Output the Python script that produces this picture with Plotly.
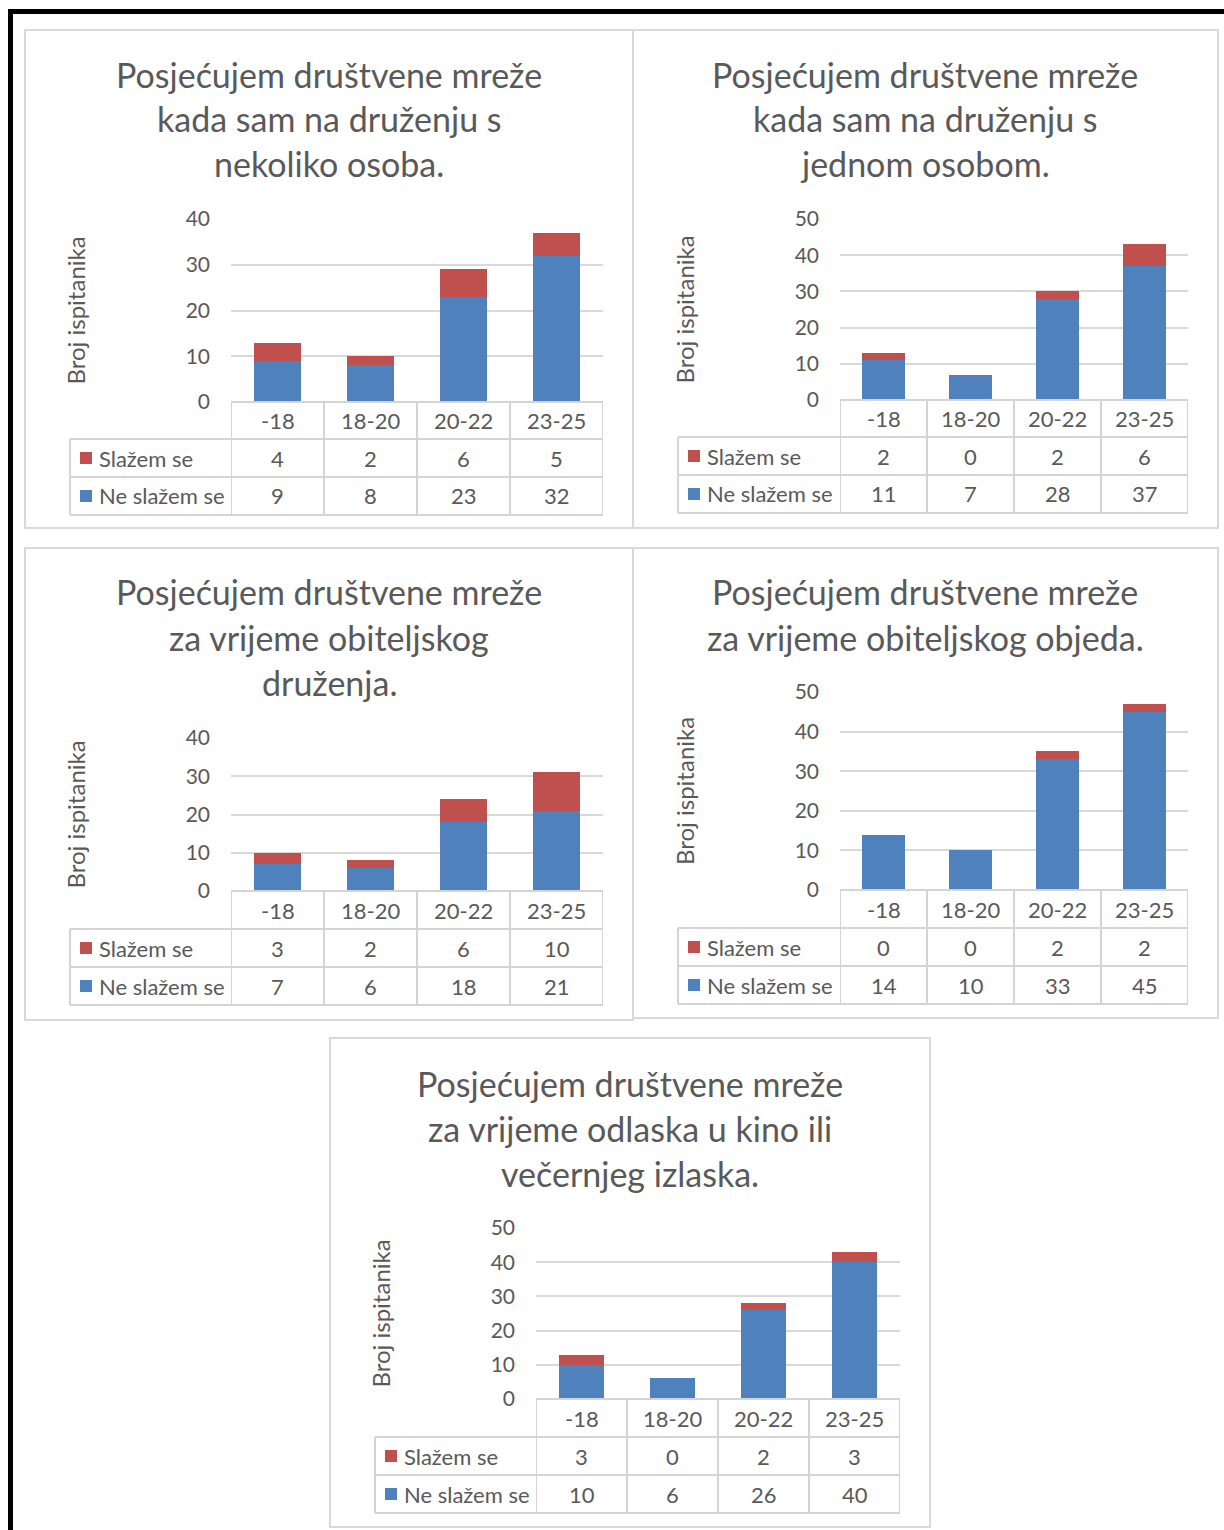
import plotly.graph_objects as go

# ---------------- data ----------------
categories = ["-18", "18-20", "20-22", "23-25"]
series_names = ["Slažem se", "Ne slažem se"]

titles = [
    ["Posjećujem društvene mreže", "kada sam na druženju s", "nekoliko osoba."],
    ["Posjećujem društvene mreže", "kada sam na druženju s", "jednom osobom."],
    ["Posjećujem društvene mreže", "za vrijeme obiteljskog", "druženja."],
    ["Posjećujem društvene mreže", "za vrijeme obiteljskog objeda."],
    ["Posjećujem društvene mreže", "za vrijeme odlaska u kino ili", "večernjeg izlaska."],
]

c1_slazem = [4, 2, 6, 5]
c1_ne_slazem = [9, 8, 23, 32]
c2_slazem = [2, 0, 2, 6]
c2_ne_slazem = [11, 7, 28, 37]
c3_slazem = [3, 2, 6, 10]
c3_ne_slazem = [7, 6, 18, 21]
c4_slazem = [0, 0, 2, 2]
c4_ne_slazem = [14, 10, 33, 45]
c5_slazem = [3, 0, 2, 3]
c5_ne_slazem = [10, 6, 26, 40]

y_max = [40, 50, 40, 50, 50]
y_step = 10
y_axis_title = "Broj ispitanika"

slazem_all = [c1_slazem, c2_slazem, c3_slazem, c4_slazem, c5_slazem]
ne_all = [c1_ne_slazem, c2_ne_slazem, c3_ne_slazem, c4_ne_slazem, c5_ne_slazem]

# ---------------- layout (pixels) ----------------
W, H = 1224, 1530
BLUE = "#4f81bd"
RED = "#c0504d"
TXT = "#595959"
GRID = "#d9d9d9"
TBL = "#d4d4d4"
FONT = "Lato"
TITLE_SIZE = 34
TICK_SIZE = 21
TABLE_SIZE = 22
YT_SIZE = 24

panels = [
    dict(box=(25, 30, 633, 528), tcx=329, tys=[74, 119, 164], px=(231, 603), py=(219, 402),
         rows=[402, 439, 477, 515], lx=70, ylx=75),
    dict(box=(633, 30, 1218, 528), tcx=925, tys=[74, 119, 164], px=(840, 1188), py=(219, 400),
         rows=[400, 437, 475, 513], lx=678, ylx=684),
    dict(box=(25, 548, 633, 1020), tcx=329, tys=[592, 637, 682], px=(231, 603), py=(738, 891),
         rows=[891, 929, 967, 1005], lx=70, ylx=75),
    dict(box=(633, 548, 1218, 1018), tcx=925, tys=[592, 637], px=(840, 1188), py=(692, 890),
         rows=[890, 928, 966, 1004], lx=678, ylx=684),
    dict(box=(330, 1038, 930, 1527), tcx=630, tys=[1083, 1128, 1173], px=(536, 900), py=(1228, 1399),
         rows=[1399, 1437, 1475, 1513], lx=375, ylx=380),
]


def fx(p):
    return p / W


def fy(p):
    return 1 - p / H


fig = go.Figure()
shapes = []
annotations = []
layout_axes = {}

for i, pan in enumerate(panels):
    n = i + 1
    xa = "x" if n == 1 else f"x{n}"
    ya = "y" if n == 1 else f"y{n}"
    xkey = "xaxis" if n == 1 else f"xaxis{n}"
    ykey = "yaxis" if n == 1 else f"yaxis{n}"

    # bars
    fig.add_trace(go.Bar(x=categories, y=ne_all[i], name=series_names[1], marker_color=BLUE,
                         marker_line_width=0, width=0.5, xaxis=xa, yaxis=ya, hoverinfo="skip"))
    fig.add_trace(go.Bar(x=categories, y=slazem_all[i], name=series_names[0], marker_color=RED,
                         marker_line_width=0, width=0.5, xaxis=xa, yaxis=ya, hoverinfo="skip"))

    x0, x1 = pan["px"]
    yt, yb = pan["py"]
    layout_axes[xkey] = dict(domain=[fx(x0), fx(x1)], anchor=ya, type="category",
                             categoryorder="array", categoryarray=categories,
                             range=[-0.5, len(categories) - 0.5],
                             showticklabels=False, showgrid=False, zeroline=False,
                             showline=False, ticks="", fixedrange=True, automargin=False)
    layout_axes[ykey] = dict(domain=[fy(yb), fy(yt)], anchor=xa, range=[0, y_max[i]],
                             dtick=y_step, tick0=0, showgrid=True, gridcolor=GRID, gridwidth=2,
                             zeroline=False, showline=False, ticks="",
                             tickfont=dict(family=FONT, size=TICK_SIZE, color=TXT),
                             ticklabelstandoff=20, fixedrange=True, automargin=False)

    # panel box
    bx0, by0, bx1, by1 = pan["box"]
    shapes.append(dict(type="rect", xref="paper", yref="paper", x0=fx(bx0), x1=fx(bx1),
                       y0=fy(by1), y1=fy(by0), line=dict(color=GRID, width=2), layer="below"))

    # title
    for line, ty in zip(titles[i], pan["tys"]):
        annotations.append(dict(text=line, xref="paper", yref="paper", x=fx(pan["tcx"]), y=fy(ty),
                                xanchor="center", yanchor="middle", showarrow=False,
                                font=dict(family=FONT, size=TITLE_SIZE, color=TXT)))

    # y axis title
    annotations.append(dict(text=y_axis_title, xref="paper", yref="paper", x=fx(pan["ylx"]),
                            y=fy((yt + yb) / 2), xanchor="center", yanchor="middle",
                            textangle=-90, showarrow=False,
                            font=dict(family=FONT, size=YT_SIZE, color=TXT)))

    # data table
    r = pan["rows"]
    lx = pan["lx"]
    shapes.append(dict(type="line", xref="paper", yref="paper", x0=fx(x0), x1=fx(x1),
                       y0=fy(r[0]), y1=fy(r[0]), line=dict(color=TBL, width=2)))
    for ry in r[1:]:
        shapes.append(dict(type="line", xref="paper", yref="paper", x0=fx(lx), x1=fx(x1),
                           y0=fy(ry), y1=fy(ry), line=dict(color=TBL, width=2)))
    for k in range(len(categories) + 1):
        shapes.append(dict(type="line", xref=xa, yref="paper", x0=k - 0.5, x1=k - 0.5,
                           y0=fy(r[3]), y1=fy(r[0]), line=dict(color=TBL, width=2)))
    shapes.append(dict(type="line", xref="paper", yref="paper", x0=fx(lx), x1=fx(lx),
                       y0=fy(r[3]), y1=fy(r[1]), line=dict(color=TBL, width=2)))

    # category labels (positioned by category index on the axis)
    for k, cat in enumerate(categories):
        annotations.append(dict(text=cat, xref=xa, yref="paper", x=k, y=fy((r[0] + r[1]) / 2),
                                xanchor="center", yanchor="middle", showarrow=False,
                                font=dict(family=FONT, size=TABLE_SIZE, color=TXT)))
    # series rows
    for row_idx, (vals, color, name) in enumerate([(slazem_all[i], RED, series_names[0]),
                                                     (ne_all[i], BLUE, series_names[1])]):
        cy = (r[row_idx + 1] + r[row_idx + 2]) / 2
        for k, v in enumerate(vals):
            annotations.append(dict(text=str(v), xref=xa, yref="paper", x=k, y=fy(cy),
                                    xanchor="center", yanchor="middle", showarrow=False,
                                    font=dict(family=FONT, size=TABLE_SIZE, color=TXT)))
        shapes.append(dict(type="rect", xref="paper", yref="paper", x0=fx(lx + 10), x1=fx(lx + 22),
                           y0=fy(cy + 6), y1=fy(cy - 6), fillcolor=color, line=dict(width=0)))
        annotations.append(dict(text=name, xref="paper", yref="paper", x=fx(lx + 27), y=fy(cy),
                                xanchor="left", yanchor="middle", showarrow=False,
                                font=dict(family=FONT, size=TABLE_SIZE, color=TXT)))

# outer black border (top and left)
shapes.append(dict(type="line", xref="paper", yref="paper", x0=fx(8), x1=1,
                   y0=fy(11.5), y1=fy(11.5), line=dict(color="black", width=5)))
shapes.append(dict(type="line", xref="paper", yref="paper", x0=fx(10.5), x1=fx(10.5),
                   y0=0, y1=fy(9), line=dict(color="black", width=5)))

fig.update_layout(template="none", autosize=False, width=W, height=H,
                  margin=dict(l=0, r=0, t=0, b=0, pad=0, autoexpand=False),
                  paper_bgcolor="white", plot_bgcolor="white", showlegend=False,
                  barmode="stack", shapes=shapes, annotations=annotations,
                  font=dict(family=FONT, color=TXT), **layout_axes)

fig.write_html("out.html", config={"displayModeBar": False, "responsive": False},
               post_script="document.body.style.margin='0';")
